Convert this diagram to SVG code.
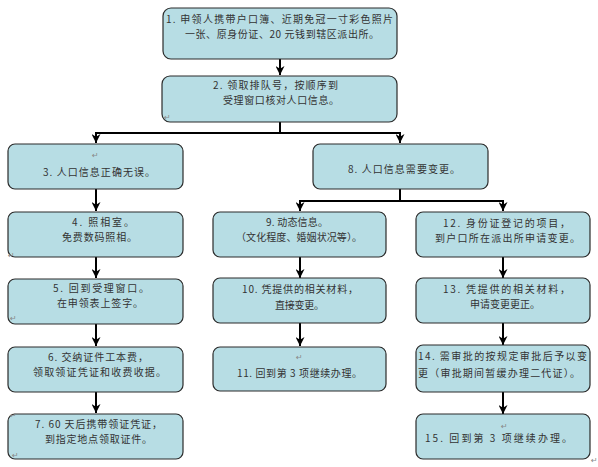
<svg xmlns="http://www.w3.org/2000/svg" width="598" height="467" viewBox="0 0 598 467">
<defs>
<marker id="ah" viewBox="0 0 10 10" refX="10" refY="5" markerWidth="9" markerHeight="9" markerUnits="userSpaceOnUse" orient="auto">
<path d="M0,0 L10,5 L0,10 L3,5 z" fill="#000"/>
</marker>
<style>
.box{fill:#b7dde4;stroke:#2b2b2b;stroke-width:1.2}
.t{font-family:"Noto Sans CJK SC","Noto Sans",sans-serif;font-size:10px;fill:#333}
.pm{font-family:"DejaVu Sans",sans-serif;font-size:8px;fill:#888}
.c{fill:none;stroke:#000;stroke-width:2}
</style>
</defs>
<rect width="598" height="467" fill="#fff"/>
<g id="connectors">
<path class="c" d="M280,59 V75" marker-end="url(#ah)"/>
<path class="c" d="M280,122 V133 H96 V143" marker-end="url(#ah)"/>
<path class="c" d="M280,133 H400 V143" marker-end="url(#ah)"/>
<path class="c" d="M96,189 V211" marker-end="url(#ah)"/>
<path class="c" d="M96,257 V278" marker-end="url(#ah)"/>
<path class="c" d="M96,324 V346" marker-end="url(#ah)"/>
<path class="c" d="M96,392 V413" marker-end="url(#ah)"/>
<path class="c" d="M400,189 V201 H300 V211" marker-end="url(#ah)"/>
<path class="c" d="M400,201 H503 V211" marker-end="url(#ah)"/>
<path class="c" d="M300,257 V278" marker-end="url(#ah)"/>
<path class="c" d="M300,323 V346" marker-end="url(#ah)"/>
<path class="c" d="M503,257 V278" marker-end="url(#ah)"/>
<path class="c" d="M503,323 V345" marker-end="url(#ah)"/>
<path class="c" d="M503,392 V414" marker-end="url(#ah)"/>
</g>
<g id="n1">
<rect class="box" x="163" y="8" width="234" height="51" rx="8"/>
<text class="t" x="166" y="23" textLength="227" lengthAdjust="spacing">1. 申领人携带户口簿、近期免冠一寸彩色照片</text>
<text class="t" x="185" y="38" textLength="194" lengthAdjust="spacing">一张、原身份证、20 元钱到辖区派出所。</text>
</g>
<g id="n2">
<rect class="box" x="162" y="76" width="235" height="46" rx="8"/>
<text class="t" x="213" y="89" textLength="125" lengthAdjust="spacing">2. 领取排队号，按顺序到</text>
<text class="t" x="223" y="104" textLength="116" lengthAdjust="spacing">受理窗口核对人口信息。</text>
<text class="pm" x="164" y="120">↵</text>
</g>
<g id="n3">
<rect class="box" x="8" y="144" width="175" height="45" rx="7"/>
<text class="pm" x="92" y="158">↵</text>
<text class="t" x="43" y="176" textLength="112" lengthAdjust="spacing">3. 人口信息正确无误。</text>
</g>
<g id="n4">
<rect class="box" x="8" y="212" width="175" height="45" rx="7"/>
<text class="t" x="72" y="226" textLength="62" lengthAdjust="spacing">4. 照相室。</text>
<text class="t" x="62" y="241" textLength="75" lengthAdjust="spacing">免费数码照相。</text>
<text class="pm" x="8" y="258">↵</text>
</g>
<g id="n5">
<rect class="box" x="8" y="279" width="175" height="45" rx="7"/>
<text class="t" x="53" y="292" textLength="96" lengthAdjust="spacing">5. 回到受理窗口。</text>
<text class="t" x="57" y="307" textLength="86" lengthAdjust="spacing">在申领表上签字。</text>
<text class="pm" x="10" y="321">↵</text>
</g>
<g id="n6">
<rect class="box" x="8" y="347" width="175" height="45" rx="7"/>
<text class="t" x="48" y="361" textLength="100" lengthAdjust="spacing">6. 交纳证件工本费，</text>
<text class="t" x="33" y="376" textLength="133" lengthAdjust="spacing">领取领证凭证和收费收据。</text>
</g>
<g id="n7">
<rect class="box" x="8" y="414" width="175" height="45" rx="7"/>
<text class="t" x="35" y="428" textLength="127" lengthAdjust="spacing">7. 60 天后携带领证凭证，</text>
<text class="t" x="45" y="443" textLength="107" lengthAdjust="spacing">到指定地点领取证件。</text>
<text class="pm" x="10" y="418">↵</text>
<text class="pm" x="12" y="458">↵</text>
</g>
<g id="n8">
<rect class="box" x="313" y="144" width="175" height="45" rx="7"/>
<text class="t" x="348" y="173" textLength="112" lengthAdjust="spacing">8. 人口信息需要变更。</text>
</g>
<g id="n9">
<rect class="box" x="213" y="212" width="173" height="45" rx="7"/>
<text class="t" x="266" y="226" textLength="62" lengthAdjust="spacing">9. 动态信息。</text>
<text class="t" x="236" y="241" textLength="126" lengthAdjust="spacing">（文化程度、婚姻状况等）。</text>
</g>
<g id="n10">
<rect class="box" x="213" y="278" width="173" height="45" rx="7"/>
<text class="t" x="242" y="293" textLength="116" lengthAdjust="spacing">10. 凭提供的相关材料，</text>
<text class="t" x="275" y="309" textLength="49" lengthAdjust="spacing">直接变更。</text>
</g>
<g id="n11">
<rect class="box" x="213" y="347" width="173" height="44" rx="7"/>
<text class="pm" x="296" y="360">↵</text>
<text class="t" x="237" y="377" textLength="125" lengthAdjust="spacing">11. 回到第 3 项继续办理。</text>
</g>
<g id="n12">
<rect class="box" x="416" y="212" width="174" height="45" rx="7"/>
<text class="t" x="443" y="227" textLength="127" lengthAdjust="spacing">12. 身份证登记的项目，</text>
<text class="t" x="435" y="242" textLength="145" lengthAdjust="spacing">到户口所在派出所申请变更。</text>
</g>
<g id="n13">
<rect class="box" x="416" y="278" width="174" height="45" rx="7"/>
<text class="t" x="443" y="293" textLength="127" lengthAdjust="spacing">13. 凭提供的相关材料，</text>
<text class="t" x="470" y="308" textLength="70" lengthAdjust="spacing">申请变更更正。</text>
</g>
<g id="n14">
<rect class="box" x="416" y="345" width="174" height="47" rx="7"/>
<text class="t" x="418" y="360" textLength="169" lengthAdjust="spacing">14. 需审批的按规定审批后予以变</text>
<text class="t" x="418" y="377" textLength="162" lengthAdjust="spacing">更（审批期间暂缓办理二代证）。</text>
</g>
<g id="n15">
<rect class="box" x="416" y="414" width="174" height="45" rx="7"/>
<text class="pm" x="501" y="429">↵</text>
<text class="t" x="425" y="442" textLength="147" lengthAdjust="spacing">15. 回到第 3 项继续办理。</text>
<text class="pm" x="591" y="463">↵</text>
</g>
</svg>
